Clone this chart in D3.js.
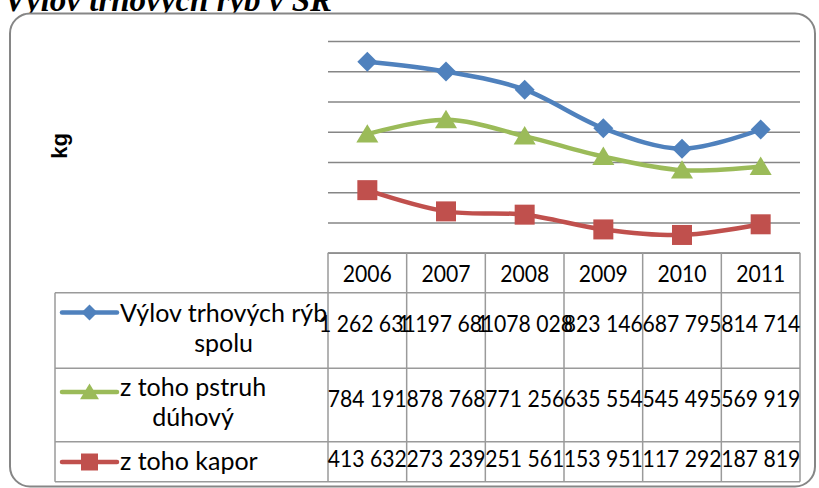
<!DOCTYPE html>
<html><head><meta charset="utf-8">
<script src="https://cdn.jsdelivr.net/npm/d3@7"></script>
<style>body{margin:0;background:#fff}svg{display:block}</style>
</head><body>
<svg id="c" width="819" height="488"></svg>
<script>
const title = "Výlov trhových rýb v SR";
const yLabel = "kg";
const years = ["2006","2007","2008","2009","2010","2011"];
const seriesNames = [["Výlov trhových rýb","spolu"],["z toho pstruh","dúhový"],["z toho kapor"]];
const vylovSpolu = [1262631, 1197681, 1078028, 823146, 687795, 814714];
const pstruhDuhovy = [784191, 878768, 771256, 635554, 545495, 569919];
const kapor = [413632, 273239, 251561, 153951, 117292, 187819];
const yTicks = [0,200000,400000,600000,800000,1000000,1200000,1400000];

const colors = ["#4F81BD","#9BBB59","#C0504D"];
const markers = ["diamond","triangle","square"];
const seriesValues = [vylovSpolu, pstruhDuhovy, kapor];

const svg = d3.select("#c");
const loc = d3.formatLocale({decimal:",", thousands:" ", grouping:[3], currency:["",""]});
const fmt = loc.format(",d");

const L = 328, R = 800, T = 41, B = 252.7;
const x = d3.scaleBand().domain(years).range([L, R]);
const y = d3.scaleLinear().domain([0, 1400000]).range([B, T]);

// title (lower part hidden behind the chart frame)
svg.append("text").attr("x",4).attr("y",11).text(title)
  .attr("font-family","Liberation Serif").attr("font-weight","bold").attr("font-style","italic")
  .attr("font-size",33).attr("fill","#000");

// frame
svg.append("rect").attr("x",10).attr("y",13.5).attr("width",805).attr("height",473)
  .attr("rx",20).attr("fill","#fff").attr("stroke","#868686").attr("stroke-width",2);

// gridlines
const g = svg.append("g").attr("transform",`translate(${L},0)`)
  .call(d3.axisLeft(y).tickValues(yTicks).tickSize(-(R-L)).tickFormat(""));
g.select(".domain").remove();
g.selectAll(".tick line").attr("stroke","#868686").attr("stroke-width",1.5);

// y label
svg.append("text").attr("transform","translate(67,146) rotate(-90)")
  .attr("text-anchor","middle").attr("font-family","Liberation Sans").attr("font-weight","bold")
  .attr("font-size",22).text(yLabel);

// table
const rowTops = [292.7, 368.3, 441.7, 481.7];
const headTop = 252.7;
const tbl = svg.append("g").attr("stroke","#9a9a9a").attr("stroke-width",1.5).attr("fill","none");
tbl.append("line").attr("x1",L).attr("x2",R).attr("y1",headTop).attr("y2",headTop);
rowTops.forEach(v => tbl.append("line").attr("x1",55).attr("x2",R).attr("y1",v).attr("y2",v));
const xs = years.map(d => x(d)).concat([R]);
xs.forEach(v => tbl.append("line").attr("x1",v).attr("x2",v).attr("y1",headTop).attr("y2",rowTops[3]));
tbl.append("line").attr("x1",55).attr("x2",55).attr("y1",rowTops[0]).attr("y2",rowTops[3]);

const font = "Lato";
const fs = 23.5;
const legFs = 25;
const sx = 0.9;
// header labels
svg.append("g").selectAll("text").data(years).join("text")
  .attr("transform", d => `translate(${x(d) + x.bandwidth()/2},282) scale(${sx},1)`)
  .attr("text-anchor","middle").attr("font-family",font).attr("font-size",fs).text(d => d);

// values
const valBase = [332, 407, 467];
seriesValues.forEach((vals, i) => {
  svg.append("g").selectAll("text").data(vals).join("text")
    .attr("transform", (d,j) => `translate(${x(years[j]) + x.bandwidth()/2},${valBase[i]}) scale(${sx},1)`)
    .attr("text-anchor","middle").attr("font-family",font).attr("font-size",fs).text(d => fmt(d));
});

function markerPath(type, s) {
  if (type === "diamond") return `M0,${-s}L${s},0L0,${s}L${-s},0Z`;
  if (type === "triangle") return `M0,${-s*0.95}L${s*1.05},${s*0.8}L${-s*1.05},${s*0.8}Z`;
  return `M${-s},${-s}H${s}V${s}H${-s}Z`;
}

// legend
const legLineY = [312.5, 392, 462];
const legText1 = [321.7, 395.5, 470];
seriesNames.forEach((lines, i) => {
  const lg = svg.append("g");
  lg.append("line").attr("x1",62).attr("x2",117).attr("y1",legLineY[i]).attr("y2",legLineY[i])
    .attr("stroke",colors[i]).attr("stroke-width",4.5).attr("stroke-linecap","round");
  lg.append("path").attr("transform",`translate(89.5,${legLineY[i]})`)
    .attr("d", markerPath(markers[i], markers[i]==="square"?8.5:(markers[i]==="diamond"?8:9))).attr("fill",colors[i]);
  const t1 = lg.append("text").attr("x",120).attr("y",legText1[i]).attr("font-family",font)
    .attr("font-size",legFs).text(lines[0]);
  if (lines.length > 1) {
    const w = t1.node().getComputedTextLength();
    lg.append("text").attr("x",120 + w/2).attr("y",legText1[i] + 30).attr("text-anchor","middle")
      .attr("font-family",font).attr("font-size",legFs).text(lines[1]);
  }
});

// lines
const line = d3.line().x((d,j) => x(years[j]) + x.bandwidth()/2).y(d => y(d)).curve(d3.curveCatmullRom.alpha(0));
seriesValues.forEach((vals, i) => {
  svg.append("path").datum(vals).attr("d", line).attr("fill","none")
    .attr("stroke",colors[i]).attr("stroke-width",4.5).attr("stroke-linejoin","round");
  svg.append("g").selectAll("path").data(vals).join("path")
    .attr("transform",(d,j) => `translate(${x(years[j]) + x.bandwidth()/2},${y(d)})`)
    .attr("d", markerPath(markers[i], markers[i]==="square"?10:(markers[i]==="diamond"?10:10.5)))
    .attr("fill",colors[i]);
});
</script>
</body></html>
